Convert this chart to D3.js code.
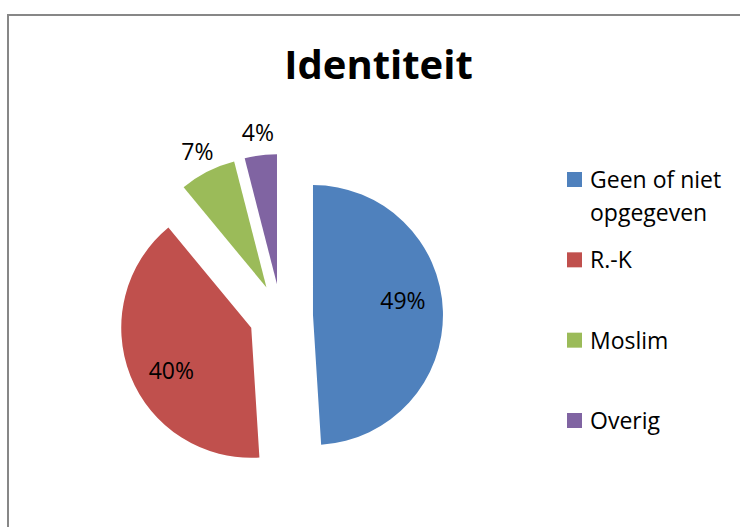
<!DOCTYPE html>
<html>
<head>
<meta charset="utf-8">
<script src="https://cdn.jsdelivr.net/npm/d3@7"></script>
<style>
  body { margin: 0; background: #fff; }
  svg { display: block; font-family: "Open Sans", Calibri, sans-serif; }
</style>
</head>
<body>
<svg id="chart" width="740" height="527"></svg>
<script>
// chart data
var categories = ["Geen of niet opgegeven", "R.-K", "Moslim", "Overig"];
var values = [49, 40, 7, 4];
var colors = ["#4F81BD", "#C0504D", "#9BBB59", "#8064A2"];
var title = "Identiteit";

var svg = d3.select("svg#chart"),
    width = +svg.attr("width"),
    height = +svg.attr("height");

// outer frame (only top and left edges fall inside the window)
svg.append("rect")
    .attr("x", 8)
    .attr("y", 15)
    .attr("width", width + 20)
    .attr("height", height + 20)
    .attr("fill", "none")
    .attr("stroke", "#878787")
    .attr("stroke-width", 2);

svg.append("text")
    .attr("x", 378.5)
    .attr("y", 79)
    .attr("text-anchor", "middle")
    .style("font-size", "40px")
    .style("font-weight", "bold")
    .text(title);

var cx = 281, cy = 316, radius = 130, explode = 32;

var pie = d3.pie().sort(null).startAngle(0).endAngle(2 * Math.PI);
var arc = d3.arc().innerRadius(0).outerRadius(radius);
var total = d3.sum(values);
var fmt = function(v) { return Math.round(v / total * 100) + "%"; };

var slices = pie(values).map(function(d, i) {
  d.mid = (d.startAngle + d.endAngle) / 2;
  d.dx = explode * Math.sin(d.mid);
  d.dy = -explode * Math.cos(d.mid);
  d.share = d.value / total;
  d.i = i;
  return d;
});

var g = svg.append("g").attr("transform", "translate(" + cx + "," + cy + ")");

var node = g.selectAll(".slice")
    .data(slices)
    .enter().append("g")
      .attr("class", "slice")
      .attr("transform", function(d) { return "translate(" + d.dx + "," + d.dy + ")"; });

node.append("path")
    .attr("d", arc)
    .style("fill", function(d) { return colors[d.i]; });

// big slices get their label inside (a little before the bisector, like excel's best fit),
// small ones just outside the rim
var insideTurn = -7 * Math.PI / 180;
node.append("text")
    .attr("transform", function(d) {
      var inside = d.share > 0.2;
      var r = inside ? radius * 0.7 : radius * 1.17;
      var a = d.mid + (inside ? insideTurn : 0);
      return "translate(" + (r * Math.sin(a)) + "," + (-r * Math.cos(a)) + ")";
    })
    .attr("dy", "0.35em")
    .attr("text-anchor", "middle")
    .style("font-size", "23px")
    .style("fill", "#000")
    .text(function(d) { return fmt(d.value); });

// legend
var ly = d3.scalePoint().domain(categories).range([172, 413]);
var legend = svg.selectAll(".legend")
    .data(categories)
    .enter().append("g")
      .attr("class", "legend")
      .attr("transform", function(d) { return "translate(567," + ly(d) + ")"; });

legend.append("rect")
    .attr("width", 15)
    .attr("height", 15)
    .style("fill", function(d, i) { return colors[i]; });

legend.append("text")
    .attr("x", 23)
    .attr("y", 16)
    .style("font-size", "23px")
    .each(function(d) {
      var t = d3.select(this), words = d.split(" "), line = [];
      var ts = t.append("tspan").attr("x", 23).attr("dy", 0);
      words.forEach(function(w) {
        line.push(w);
        ts.text(line.join(" "));
        if (ts.node().getComputedTextLength() > 145 && line.length > 1) {
          line.pop();
          ts.text(line.join(" "));
          line = [w];
          ts = t.append("tspan").attr("x", 23).attr("dy", 33).text(w);
        }
      });
    });
</script>
</body>
</html>
